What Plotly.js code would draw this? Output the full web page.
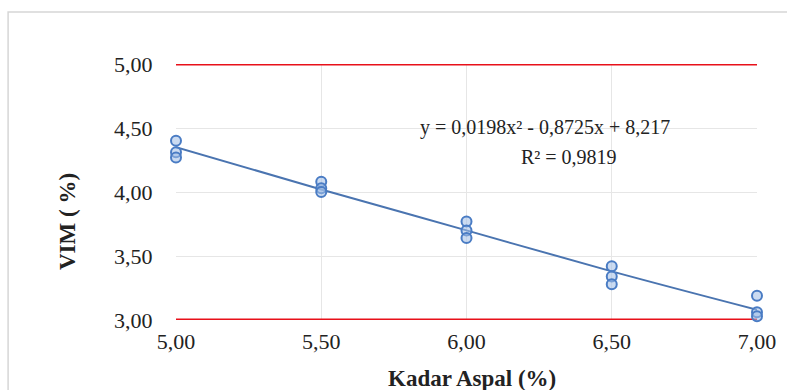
<!DOCTYPE html>
<html>
<head>
<meta charset="utf-8">
<script src="https://cdn.plot.ly/plotly-3.0.1.min.js"></script>
<style>
html,body{margin:0;padding:0;background:#fff;}
#chart{width:787px;height:390px;}
</style>
</head>
<body>
<div id="chart"></div>
<script>
// Data
const kadarAspal = [5.0, 5.0, 5.0, 5.5, 5.5, 5.5, 6.0, 6.0, 6.0, 6.5, 6.5, 6.5, 7.0, 7.0, 7.0];
const vim        = [4.40, 4.31, 4.27, 4.08, 4.03, 4.00, 3.77, 3.70, 3.64, 3.42, 3.34, 3.28, 3.19, 3.06, 3.03];
// Trendline values
const trendX = [5.0, 5.5, 6.0, 6.5, 7.0];
const trendY = [4.35, 4.02, 3.70, 3.38, 3.08];
// Limit lines
const limitX = [5.0, 7.0];
const upperLimit = [5.0, 5.0];
const lowerLimit = [3.0, 3.0];
const xTicks = [5.0, 5.5, 6.0, 6.5, 7.0];
const xTickText = ["5,00", "5,50", "6,00", "6,50", "7,00"];
const yTicks = [3.0, 3.5, 4.0, 4.5, 5.0];
const yTickText = ["3,00", "3,50", "4,00", "4,50", "5,00"];
const equationText = "y = 0,0198x\u00B2 - 0,8725x + 8,217";
const r2Text = "R\u00B2 = 0,9819";

const serif = "Liberation Serif";

const traces = [
  {x: limitX, y: upperLimit, mode: "lines", line: {color: "#e8101a", width: 3}, hoverinfo: "skip", cliponaxis: false},
  {x: limitX, y: lowerLimit, mode: "lines", line: {color: "#e8101a", width: 3}, hoverinfo: "skip", cliponaxis: false},
  {x: trendX, y: trendY, mode: "lines", line: {color: "#4a74b0", width: 2, shape: "spline"}, hoverinfo: "skip"},
  {x: kadarAspal, y: vim, mode: "markers", cliponaxis: false,
   marker: {symbol: "circle", size: 10, color: "rgba(160,190,230,0.55)", line: {color: "#4a7cc4", width: 2}}}
];

const layout = {
  width: 787, height: 390,
  margin: {l: 176, r: 30, t: 64, b: 70},
  paper_bgcolor: "#ffffff", plot_bgcolor: "#ffffff",
  showlegend: false,
  font: {family: serif, size: 22, color: "#222"},
  xaxis: {
    range: [5, 7], tickvals: xTicks, ticktext: xTickText,
    showgrid: true, gridcolor: "#e6e6e6", gridwidth: 1, zeroline: false,
    showline: false, ticks: "outside", ticklen: 2, tickcolor: "rgba(0,0,0,0)",
    tickfont: {family: serif, size: 22, color: "#222"}
  },
  yaxis: {
    range: [3, 5], tickvals: yTicks, ticktext: yTickText,
    showgrid: true, gridcolor: "#e6e6e6", gridwidth: 1, zeroline: false,
    showline: false, ticks: "outside", ticklen: 18, tickcolor: "rgba(0,0,0,0)",
    tickfont: {family: serif, size: 22, color: "#222"}
  },
  shapes: [
    {type: "rect", xref: "paper", yref: "paper", x0: -0.289, x1: 1.2, y0: -0.5, y1: 1.203,
     line: {color: "#d6d6d6", width: 1.5}, fillcolor: "rgba(0,0,0,0)", layer: "below"}
  ],
  annotations: [
    {xref: "paper", yref: "paper", x: (67 - 176) / 581, y: (320 - 222) / 256, text: "<b>VIM ( %)</b>", textangle: -90,
     xanchor: "center", yanchor: "middle",
     showarrow: false, font: {family: serif, size: 23, color: "#222"}},
    {xref: "paper", yref: "paper", x: (472 - 176) / 581, y: (320 - 378) / 256, text: "<b>Kadar Aspal (%)</b>",
     xanchor: "center", yanchor: "middle",
     showarrow: false, font: {family: serif, size: 23, color: "#222"}},
    {xref: "paper", yref: "paper", x: (545 - 176) / 581, y: (320 - 127) / 256, text: equationText,
     xanchor: "center", yanchor: "middle",
     showarrow: false, font: {family: serif, size: 20, color: "#222"}},
    {xref: "paper", yref: "paper", x: (569 - 176) / 581, y: (320 - 157) / 256, text: r2Text,
     xanchor: "center", yanchor: "middle",
     showarrow: false, font: {family: serif, size: 20, color: "#222"}}
  ]
};

Plotly.newPlot("chart", traces, layout, {displayModeBar: false, staticPlot: true});
</script>
</body>
</html>
